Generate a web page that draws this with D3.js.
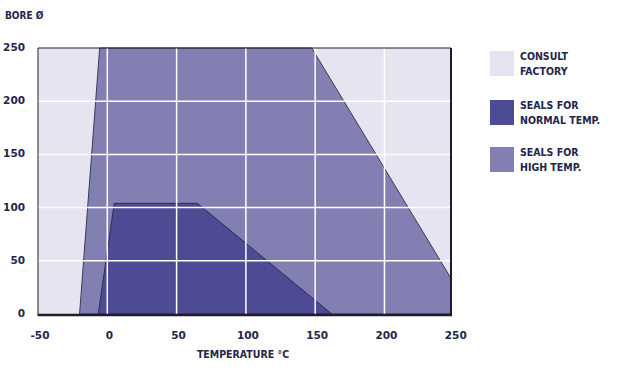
<!doctype html>
<html>
<head>
<meta charset="utf-8">
<title>Bore vs temperature</title>
<script src="https://d3js.org/d3.v7.min.js"></script>
<style>
  body { margin: 0; background: #fff; }
  svg text { font-family: "DejaVu Sans Condensed", "DejaVu Sans", sans-serif; font-weight: bold; fill: #24244a; }
  svg text.num { font-family: "DejaVu Sans", sans-serif; }
</style>
</head>
<body>
<svg id="chart" width="618" height="371"></svg>
<script>
// data
const xTicks = [-50, 0, 50, 100, 150, 200, 250];
const yTicks = [0, 50, 100, 150, 200, 250];
const highTemp = [[-20, 0], [-5.5, 250], [147.5, 250], [248, 33.5], [248, 0]];
const normalTemp = [[-6.5, 0], [5, 104], [65, 104], [162, 0]];
const legendNames = [["CONSULT", "FACTORY"], ["SEALS FOR", "NORMAL TEMP."], ["SEALS FOR", "HIGH TEMP."]];
const legendColors = ["#e6e4f0", "#4e4b95", "#8280b3"];

const svg = d3.select("#chart");
const plotL = 38, plotR = 451, plotT = 48, plotB = 314;

const x = d3.scaleLinear().domain([-50, 248]).range([plotL, plotR]);
const y = d3.scaleLinear().domain([0, 250]).range([plotB, plotT]);

// plot background (consult factory)
svg.append("rect")
  .attr("x", plotL).attr("y", plotT)
  .attr("width", plotR - plotL).attr("height", plotB - plotT)
  .attr("fill", legendColors[0]);

const line = d3.line().x(d => x(d[0])).y(d => y(d[1]));

svg.append("path")
  .attr("d", line(highTemp) + "Z")
  .attr("fill", legendColors[2])
  .attr("stroke", "#3a3a55")
  .attr("stroke-width", 1);

svg.append("path")
  .attr("d", line(normalTemp) + "Z")
  .attr("fill", legendColors[1])
  .attr("stroke", "#2e2c55")
  .attr("stroke-width", 1);

// white grid over everything
svg.append("g")
  .selectAll("line")
  .data(xTicks.filter(d => d > -50 && d < 250))
  .join("line")
    .attr("x1", d => x(d)).attr("x2", d => x(d))
    .attr("y1", plotT).attr("y2", plotB)
    .attr("stroke", "#fff").attr("stroke-width", 1.5);

svg.append("g")
  .selectAll("line")
  .data(yTicks.filter(d => d > 0 && d < 250))
  .join("line")
    .attr("x1", plotL).attr("x2", plotR)
    .attr("y1", d => y(d)).attr("y2", d => y(d))
    .attr("stroke", "#fff").attr("stroke-width", 1.5);

// frame
svg.append("line").attr("x1", plotL).attr("x2", plotR).attr("y1", plotT).attr("y2", plotT)
  .attr("stroke", "#222").attr("stroke-width", 1);
svg.append("line").attr("x1", plotL).attr("x2", plotL).attr("y1", plotT).attr("y2", plotB)
  .attr("stroke", "#222").attr("stroke-width", 1);
svg.append("line").attr("x1", plotR).attr("x2", plotR).attr("y1", plotT).attr("y2", plotB + 1)
  .attr("stroke", "#1e1e28").attr("stroke-width", 2);
svg.append("line").attr("x1", plotL - 0.5).attr("x2", plotR + 1).attr("y1", plotB + 1).attr("y2", plotB + 1)
  .attr("stroke", "#1e1e28").attr("stroke-width", 2.5);

// tick labels
svg.append("g")
  .selectAll("text")
  .data(xTicks)
  .join("text")
    .attr("class", "num")
    .attr("x", d => x(d) + 2)
    .attr("y", 339)
    .attr("text-anchor", "middle")
    .attr("font-size", "10.5px")
    .text(d => d);

svg.append("g")
  .selectAll("text")
  .data(yTicks)
  .join("text")
    .attr("class", "num")
    .attr("x", 25)
    .attr("y", d => y(d) + 3)
    .attr("text-anchor", "end")
    .attr("font-size", "10.5px")
    .text(d => d);

// axis titles
svg.append("text")
  .attr("x", 5).attr("y", 19)
  .attr("font-size", "10px")
  .text("BORE Ø");

svg.append("text")
  .attr("x", 243).attr("y", 358)
  .attr("text-anchor", "middle")
  .attr("font-size", "10.5px")
  .text("TEMPERATURE °C");

// legend
const legend = svg.append("g")
  .selectAll("g")
  .data(legendNames)
  .join("g")
    .attr("transform", (d, i) => `translate(490, ${[51, 100, 147][i]})`);

legend.append("rect")
  .attr("width", 24).attr("height", 25)
  .attr("fill", (d, i) => legendColors[i]);

legend.selectAll("text")
  .data(d => d)
  .join("text")
    .attr("x", 30)
    .attr("y", (d, i) => 9 + i * 15)
    .attr("font-size", "10.5px")
    .text(d => d);
</script>
</body>
</html>
